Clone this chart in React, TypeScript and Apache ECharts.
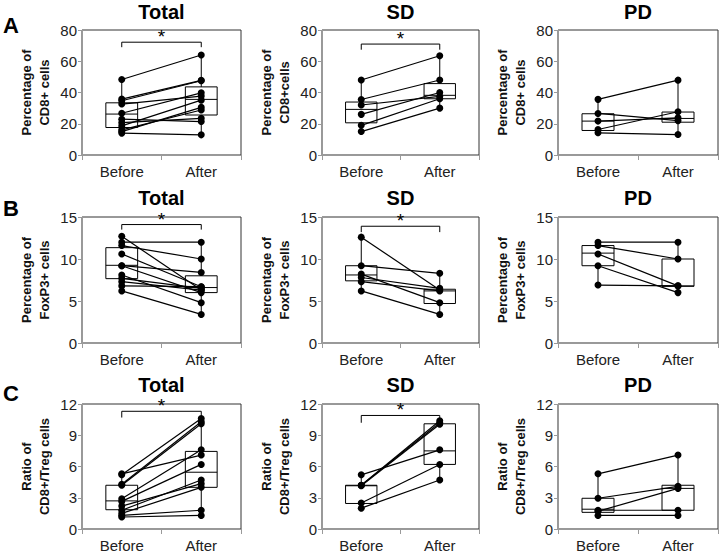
import React, { useEffect, useRef } from "react";
import * as echarts from "echarts";

const FONT = "'Liberation Sans', Arial, Helvetica, sans-serif";

const categories = ["Before", "After"];

// Row A: Percentage of CD8+ cells
const aTotalBefore = [48.3, 35.8, 34.7, 32.6, 26.7, 22.9, 20.7, 18.6, 16.1, 15.0, 14.0];
const aTotalAfter = [64.0, 47.8, 47.5, 37.7, 39.8, 21.4, 23.5, 35.1, 28.8, 30.5, 12.9];
const aTotalBox = [[14.0, 17.6, 26.2, 33.4, 48.3], [12.9, 25.6, 35.6, 43.6, 64.0]];
const aSDBefore = [48.0, 35.5, 32.0, 26.0, 19.0, 15.0];
const aSDAfter = [63.5, 48.0, 37.5, 40.0, 36.0, 30.0];
const aSDBox = [[15.0, 20.6, 29.2, 33.9, 48.0], [30.0, 36.0, 38.2, 45.7, 63.5]];
const aPDBefore = [35.6, 26.6, 21.7, 16.3, 14.2];
const aPDAfter = [47.9, 22.0, 23.8, 27.7, 13.1];
const aPDBox = [[14.2, 15.7, 21.7, 26.4, 35.6], [13.1, 21.0, 23.4, 27.5, 47.9]];

// Row B: Percentage of FoxP3+ cells
const bTotalBefore = [12.7, 12.0, 11.6, 10.6, 9.2, 9.2, 8.1, 7.7, 7.3, 6.8, 6.2];
const bTotalAfter = [6.3, 12.0, 10.0, 6.7, 8.4, 6.0, 4.8, 6.5, 6.3, 6.7, 3.4];
const bTotalBox = [[6.2, 7.66, 9.25, 11.35, 12.7], [3.4, 6.0, 6.6, 8.0, 12.0]];
const bSDBefore = [12.6, 9.2, 8.2, 7.8, 7.3, 6.2];
const bSDAfter = [6.3, 8.3, 4.8, 6.5, 6.2, 3.4];
const bSDBox = [[6.2, 7.4, 8.1, 9.2, 12.6], [3.4, 4.7, 6.2, 6.4, 8.3]];
const bPDBefore = [12.0, 11.6, 10.6, 9.2, 6.9];
const bPDAfter = [12.0, 10.0, 6.8, 6.0, 6.8];
const bPDBox = [[6.9, 9.2, 10.7, 11.6, 12.0], [6.0, 6.75, 6.8, 10.0, 12.0]];

// Row C: Ratio of CD8+/Treg cells
const cTotalBefore = [5.3, 5.2, 4.3, 4.2, 2.9, 2.65, 2.2, 1.8, 1.5, 1.3, 1.15];
const cTotalAfter = [7.1, 10.6, 10.3, 10.1, 7.6, 6.2, 4.35, 4.7, 4.0, 1.8, 1.3];
const cTotalBox = [[1.15, 1.85, 2.7, 4.2, 5.3], [1.3, 4.0, 5.45, 7.45, 10.6]];
const cSDBefore = [5.2, 4.2, 4.2, 4.15, 2.5, 2.0];
const cSDAfter = [7.6, 10.4, 10.2, 10.05, 6.2, 4.7];
const cSDBox = [[2.0, 2.45, 4.15, 4.2, 5.2], [4.7, 6.2, 7.5, 10.1, 10.4]];
const cPDBefore = [5.3, 2.95, 1.7, 1.8, 1.3];
const cPDAfter = [7.1, 4.1, 3.9, 1.8, 1.3];
const cPDBox = [[1.3, 1.6, 1.9, 2.95, 5.3], [1.3, 1.8, 3.9, 4.2, 7.1]];

// significance brackets: [bar level, drop level] or null
const sigA = [[72.2, 69.0], [71.0, 67.4], null];
const sigB = [[14.1, 13.5], [13.9, 13.2], null];
const sigC = [[11.3, 10.7], [10.9, 10.2], null];

const rowScales = [
  { max: 80, interval: 20, name: "Percentage of\nCD8+ cells" },
  { max: 15, interval: 5, name: "Percentage of\nFoxP3+ cells" },
  { max: 12, interval: 3, name: "Ratio of\nCD8+/Treg cells" },
];
const rowNamesSD = ["Percentage of\nCD8+cells", "Percentage of\nFoxP3+ cells", "Ratio of\nCD8+/Treg cells"];
const colTitles = ["Total", "SD", "PD"];
const rowLetters = ["A", "B", "C"];

const rowsData = [
  [[aTotalBefore, aTotalAfter, aTotalBox], [aSDBefore, aSDAfter, aSDBox], [aPDBefore, aPDAfter, aPDBox]],
  [[bTotalBefore, bTotalAfter, bTotalBox], [bSDBefore, bSDAfter, bSDBox], [bPDBefore, bPDAfter, bPDBox]],
  [[cTotalBefore, cTotalAfter, cTotalBox], [cSDBefore, cSDAfter, cSDBox], [cPDBefore, cPDAfter, cPDBox]],
];
const sigs = [sigA, sigB, sigC];

const gridLefts = [82, 322, 558];
const gridWidths = [159, 157, 160];
const gridTops = [30, 217, 404];
const gridHeights = [125, 126, 125];
const titleY = [12, 198, 385];
const letterY = [25, 208, 393];

function boxRender(params: any, api: any) {
  const x = api.value(0);
  const mn = api.coord([x, api.value(1)]);
  const q1 = api.coord([x, api.value(2)]);
  const md = api.coord([x, api.value(3)]);
  const q3 = api.coord([x, api.value(4)]);
  const mx = api.coord([x, api.value(5)]);
  const bw = api.size([1, 0])[0] * 0.4;
  const cx = mn[0];
  const st = { stroke: "#000", lineWidth: 1, fill: null };
  return {
    type: "group",
    children: [
      { type: "line", shape: { x1: cx, y1: mx[1], x2: cx, y2: q3[1] }, style: st },
      { type: "line", shape: { x1: cx, y1: q1[1], x2: cx, y2: mn[1] }, style: st },
      {
        type: "rect",
        shape: { x: cx - bw / 2, y: q3[1], width: bw, height: q1[1] - q3[1] },
        style: { stroke: "#000", fill: "rgba(0,0,0,0)", lineWidth: 1 },
      },
      { type: "line", shape: { x1: cx - bw / 2, y1: md[1], x2: cx + bw / 2, y2: md[1] }, style: st },
    ],
  };
}

function sigRender(params: any, api: any) {
  const bar = api.value(2);
  const drop = api.value(3);
  const p0 = api.coord([api.value(0), bar]);
  const p1 = api.coord([api.value(1), bar]);
  const d0 = api.coord([api.value(0), drop]);
  return {
    type: "group",
    children: [
      {
        type: "polyline",
        shape: { points: [[p0[0], d0[1]], p0, p1, [p1[0], d0[1]]] },
        style: { stroke: "#000", lineWidth: 1, fill: null },
      },
      {
        type: "text",
        x: (p0[0] + p1[0]) / 2,
        y: p0[1] + 4,
        style: { text: "*", fontSize: 19, fontFamily: FONT, fill: "#000", align: "center", verticalAlign: "bottom" },
      },
    ],
  };
}

export default function App() {
  const ref = useRef<HTMLDivElement>(null);
  useEffect(() => {
    if (!ref.current) return;
    const chart = echarts.init(ref.current, null, { renderer: "svg" });
    const grids: any[] = [];
    const xAxes: any[] = [];
    const yAxes: any[] = [];
    const series: any[] = [];
    const graphics: any[] = [];
    for (let r = 0; r < 3; r++) {
      graphics.push({
        type: "text",
        x: 3,
        y: letterY[r],
        style: { text: rowLetters[r], fontSize: 22, fontWeight: "bold", fontFamily: FONT, fill: "#000", verticalAlign: "middle" },
      });
      for (let c = 0; c < 3; c++) {
        const idx = r * 3 + c;
        grids.push({
          left: gridLefts[c],
          top: gridTops[r],
          width: gridWidths[c],
          height: gridHeights[r],
          show: true,
          borderColor: "#333",
          borderWidth: 1,
        });
        xAxes.push({
          type: "category",
          gridIndex: idx,
          data: categories,
          axisLine: { lineStyle: { color: "#9a9a9a", width: 1 } },
          axisTick: { show: true, length: 5, lineStyle: { color: "#9a9a9a" } },
          axisLabel: { fontSize: 15, color: "#222", fontFamily: FONT, margin: 9 },
        });
        yAxes.push({
          type: "value",
          gridIndex: idx,
          min: 0,
          max: rowScales[r].max,
          interval: rowScales[r].interval,
          name: c === 1 ? rowNamesSD[r] : rowScales[r].name,
          nameLocation: "middle",
          nameGap: 29,
          nameTextStyle: { fontSize: 13, fontWeight: "bold", color: "#111", fontFamily: FONT, lineHeight: 18 },
          splitLine: { show: false },
          axisLine: { show: true, lineStyle: { color: "#9a9a9a", width: 1 } },
          axisTick: { show: true, length: 4, lineStyle: { color: "#9a9a9a" } },
          axisLabel: { fontSize: 15, color: "#222", fontFamily: FONT, margin: 5 },
        });
        graphics.push({
          type: "text",
          x: gridLefts[c] + gridWidths[c] / 2,
          y: titleY[r],
          style: {
            text: colTitles[c],
            fontSize: 20,
            fontWeight: "bold",
            fontFamily: FONT,
            fill: "#000",
            align: "center",
            verticalAlign: "middle",
          },
        });
        const [before, after, box] = rowsData[r][c] as any;
        series.push({
          type: "custom",
          xAxisIndex: idx,
          yAxisIndex: idx,
          renderItem: boxRender,
          encode: { x: 0, y: [1, 2, 3, 4, 5] },
          data: [[0, ...box[0]], [1, ...box[1]]],
          z: 1,
          silent: true,
        });
        const sig = sigs[r][c];
        if (sig) {
          series.push({
            type: "custom",
            xAxisIndex: idx,
            yAxisIndex: idx,
            renderItem: sigRender,
            encode: { x: [0, 1], y: [2, 3] },
            data: [[0, 1, sig[0], sig[1]]],
            z: 1,
            silent: true,
          });
        }
        for (let i = 0; i < before.length; i++) {
          series.push({
            type: "line",
            xAxisIndex: idx,
            yAxisIndex: idx,
            data: [before[i], after[i]],
            symbol: "circle",
            symbolSize: 7,
            showSymbol: true,
            itemStyle: { color: "#000" },
            lineStyle: { color: "#000", width: 1.2 },
            z: 3,
            silent: true,
          });
        }
      }
    }
    chart.setOption({
      animation: false,
      backgroundColor: "#fff",
      grid: grids,
      xAxis: xAxes,
      yAxis: yAxes,
      series,
      graphic: graphics,
    });
    return () => chart.dispose();
  }, []);
  return <div ref={ref} style={{ width: 723, height: 556, position: "absolute", left: 0, top: 0 }} />;
}
